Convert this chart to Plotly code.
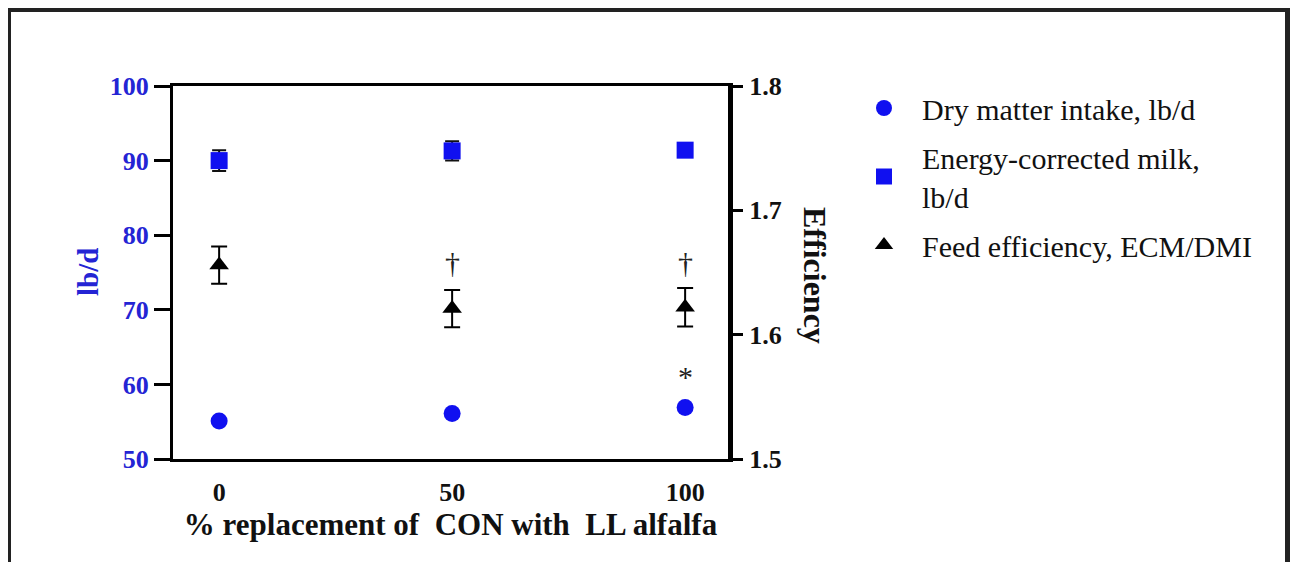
import plotly.graph_objects as go

# ---- data ----
replacement = [0, 50, 100]
x_tick_labels = ["0", "50", "100"]
dmi = [55.1, 56.1, 56.9]
ecm = [90.0, 91.3, 91.4]
ecm_se = [1.4, 1.3, 0.6]
efficiency = [1.656, 1.621, 1.622]
efficiency_se = [0.015, 0.015, 0.0155]
left_ticks = [50, 60, 70, 80, 90, 100]
right_ticks = [1.5, 1.6, 1.7, 1.8]
right_tick_labels = ["1.5", "1.6", "1.7", "1.8"]
# significance marks
dagger_x = [50, 100]
dagger_y = [1.6584, 1.6584]
star_x = [100]
star_y = [61.1]

# the page body adds an 8 px margin, so figure coords = page coords - 8
OFF = 8
W, H = 1298 - 2 * OFF, 562 - OFF
L, R, T, B = 173 - OFF, 728 - OFF, 86 - OFF, 459 - OFF

BLUE = "#1010f0"
TICKBLUE = "#2424d4"
SERIF = "Liberation Serif, Times New Roman, serif"

fig = go.Figure()

fig.add_trace(go.Scatter(
    x=replacement, y=dmi, mode="markers", name="Dry matter intake, lb/d",
    marker=dict(symbol="circle", size=17, color=BLUE),
    legendgroup="a",
))
fig.add_trace(go.Scatter(
    x=replacement, y=ecm, mode="markers", name="Energy-corrected milk,<br>lb/d",
    marker=dict(symbol="square", size=17, color=BLUE),
    error_y=dict(type="data", array=ecm_se, color="#111111", thickness=2, width=7),
    legendgroup="b",
))
fig.add_trace(go.Scatter(
    x=replacement, y=efficiency, mode="markers", name="Feed efficiency, ECM/DMI",
    marker=dict(symbol="triangle-up", size=17, color="black"),
    error_y=dict(type="data", array=efficiency_se, color="black", thickness=2, width=8),
    yaxis="y2", legendgroup="c",
))

annotations = []
for xv, yv in zip(dagger_x, dagger_y):
    annotations.append(dict(x=xv, y=yv, xref="x", yref="y2", text="†", showarrow=False,
                            font=dict(family=SERIF, size=30, color="#222")))
for xv, yv in zip(star_x, star_y):
    annotations.append(dict(x=xv, y=yv, xref="x", yref="y", text="*", showarrow=False,
                            font=dict(family=SERIF, size=30, color="#222")))

pw, ph = R - L, B - T
def px(xp):
    return (xp - OFF - L) / pw
def py(yp):
    return (B - (yp - OFF)) / ph

annotations.append(dict(x=px(88), y=py(272), xref="paper", yref="paper", text="lb/d",
                        textangle=-90, showarrow=False, xanchor="center", yanchor="middle",
                        font=dict(family=SERIF, size=29, color=TICKBLUE, weight="bold")))
annotations.append(dict(x=px(815), y=py(275), xref="paper", yref="paper", text="Efficiency",
                        textangle=90, showarrow=False, xanchor="center", yanchor="middle",
                        font=dict(family=SERIF, size=32, color="#111", weight="bold")))

fig.update_layout(
    width=W, height=H,
    margin=dict(l=L, r=W - R, t=T, b=H - B, pad=0),
    paper_bgcolor="white", plot_bgcolor="white",
    showlegend=True,
    legend=dict(x=px(846), y=py(82), xanchor="left", yanchor="top",
                font=dict(family=SERIF, size=30, color="#111"),
                tracegroupgap=7, itemwidth=66, bgcolor="rgba(0,0,0,0)"),
    xaxis=dict(range=[-9.9, 109.2], tickvals=replacement, ticktext=x_tick_labels,
               showgrid=False, zeroline=False, showline=True, linecolor="black",
               linewidth=3, mirror=True, ticks="", ticklabelstandoff=8,
               tickfont=dict(family=SERIF, size=26, color="#111", weight="bold"),
               title=dict(text="% replacement of\u00a0 CON with\u00a0 LL alfalfa", standoff=0,
                          font=dict(family=SERIF, size=31, color="#111", weight="bold"))),
    yaxis=dict(range=[50, 100], tickvals=left_ticks, showgrid=False, zeroline=False,
               showline=True, linecolor="black", linewidth=3, ticks="outside",
               ticklen=16, tickwidth=3, tickcolor="black", ticklabelstandoff=0,
               tickfont=dict(family=SERIF, size=26, color=TICKBLUE, weight="bold")),
    yaxis2=dict(range=[1.5, 1.8], tickvals=right_ticks, ticktext=right_tick_labels,
                overlaying="y", side="right", showgrid=False, zeroline=False,
                showline=True, linecolor="black", linewidth=5, ticks="outside",
                ticklen=10, tickwidth=3, tickcolor="black", ticklabelstandoff=1,
                tickfont=dict(family=SERIF, size=26, color="#111", weight="bold")),
    annotations=annotations,
    shapes=[dict(type="rect", xref="paper", yref="paper",
                 x0=px(8.5), x1=px(1287.5), y0=py(600), y1=py(9.5),
                 line=dict(color="#222", width=5), fillcolor="rgba(0,0,0,0)", layer="above")],
)

fig.write_html("out.html")
